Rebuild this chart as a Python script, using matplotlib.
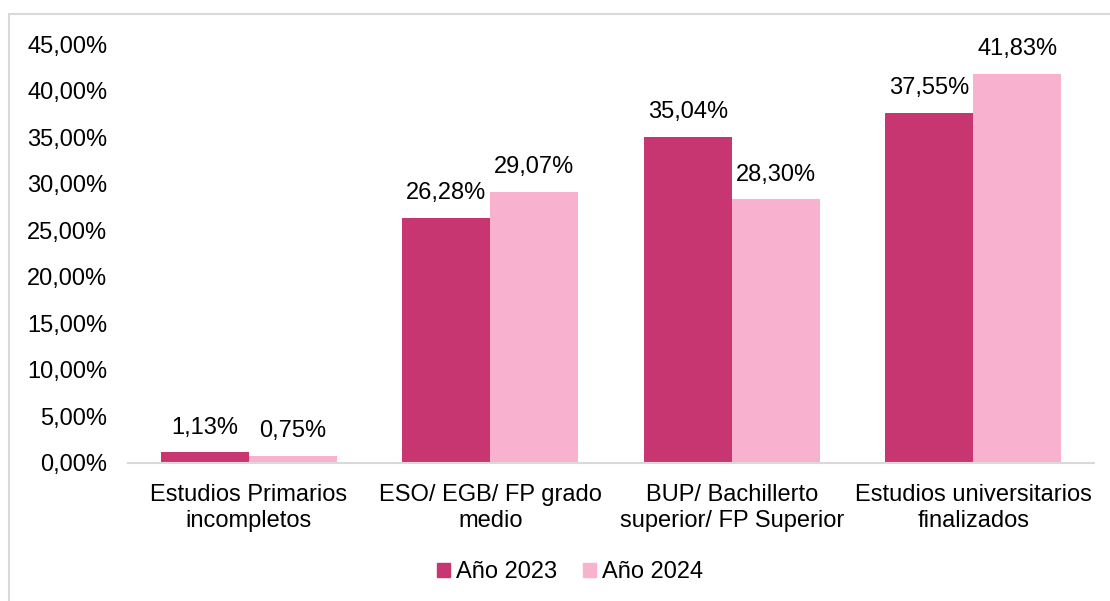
import matplotlib
matplotlib.use("Agg")
import matplotlib.pyplot as plt
import numpy as np
from matplotlib.patches import Patch, Rectangle

categories = ["Estudios Primarios\nincompletos", "ESO/ EGB/ FP grado\nmedio",
              "BUP/ Bachillerto\nsuperior/ FP Superior", "Estudios universitarios\nfinalizados"]
series_names = ["Año 2023", "Año 2024"]
values_2023 = [1.13, 26.28, 35.04, 37.55]
values_2024 = [0.75, 29.07, 28.30, 41.83]
yticks = [0, 5, 10, 15, 20, 25, 30, 35, 40, 45]

colors = ["#C73670", "#F8B1CF"]

plt.rcParams['font.family'] = ['Liberation Sans', 'DejaVu Sans']
fs = 17

fig = plt.figure(figsize=(11.1, 6.01), dpi=100)
W, H = 1110, 601
# outer frame (partially cut)
fig.patches.append(Rectangle((9 / W, -0.1), 1.2, (601 - 14) / H + 0.1,
                             transform=fig.transFigure, fill=False,
                             edgecolor="#D9D9D9", linewidth=1.5))

ax = fig.add_axes([128 / W, 1 - 463 / H, (1094 - 128) / W, (463 - 44) / H])
x = np.arange(len(categories))
bw = 1 / 2.75
b1 = ax.bar(x - bw / 2, values_2023, bw, color=colors[0], label=series_names[0])
b2 = ax.bar(x + bw / 2, values_2024, bw, color=colors[1], label=series_names[1])

def fmt(v):
    return f"{v:.2f}".replace(".", ",") + "%"

for bars, vals in ((b1, values_2023), (b2, values_2024)):
    for r, v in zip(bars, vals):
        ax.annotate(fmt(v), (r.get_x() + r.get_width() / 2, v), xytext=(0, 10),
                    textcoords="offset points", ha="center", va="bottom", fontsize=fs)

ax.set_xlim(-0.5, len(categories) - 0.5)
ax.set_ylim(0, 45)
ax.set_yticks(yticks)
ax.set_yticklabels([f"{t:.2f}".replace(".", ",") + "%" for t in yticks], fontsize=fs)
ax.set_xticks(x)
ax.set_xticklabels(categories, fontsize=fs, linespacing=1.25)
ax.tick_params(axis="y", length=0, pad=15)
ax.tick_params(axis="x", length=0, pad=15)
for s in ["top", "right", "left"]:
    ax.spines[s].set_visible(False)
ax.spines["bottom"].set_color("#D9D9D9")
ax.spines["bottom"].set_linewidth(1.5)

handles = [Patch(color=c) for c in colors]
fig.legend(handles, series_names, loc="center", bbox_to_anchor=(570 / W, 1 - 572 / H),
           ncol=2, frameon=False, fontsize=fs, handlelength=0.55, handleheight=0.55,
           handletextpad=0.25, columnspacing=1.1, borderaxespad=0)

fig.savefig("out.png", dpi=100)
